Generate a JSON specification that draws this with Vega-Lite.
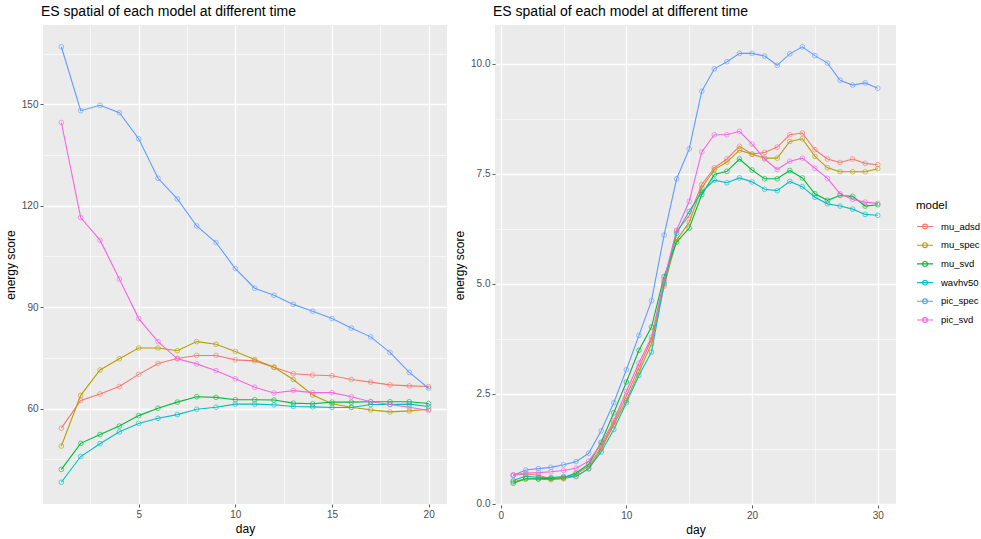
{
  "$schema": "https://vega.github.io/schema/vega-lite/v6.json",
  "background": "white",
  "padding": {"left": 4, "top": 5, "right": 2, "bottom": 4},
  "spacing": 6,
  "datasets": {
    "left": [
      {"model":"mu_adsd","day":1,"score":54.2},{"model":"mu_adsd","day":2,"score":62.4},{"model":"mu_adsd","day":3,"score":64.3},{"model":"mu_adsd","day":4,"score":66.5},{"model":"mu_adsd","day":5,"score":70.1},{"model":"mu_adsd","day":6,"score":73.3},{"model":"mu_adsd","day":7,"score":74.8},{"model":"mu_adsd","day":8,"score":75.7},{"model":"mu_adsd","day":9,"score":75.7},{"model":"mu_adsd","day":10,"score":74.4},{"model":"mu_adsd","day":11,"score":74.1},{"model":"mu_adsd","day":12,"score":72.2},{"model":"mu_adsd","day":13,"score":70.3},{"model":"mu_adsd","day":14,"score":69.9},{"model":"mu_adsd","day":15,"score":69.7},{"model":"mu_adsd","day":16,"score":68.6},{"model":"mu_adsd","day":17,"score":67.8},{"model":"mu_adsd","day":18,"score":67.0},{"model":"mu_adsd","day":19,"score":66.7},{"model":"mu_adsd","day":20,"score":66.5},
      {"model":"mu_spec","day":1,"score":48.9},{"model":"mu_spec","day":2,"score":63.9},{"model":"mu_spec","day":3,"score":71.4},{"model":"mu_spec","day":4,"score":74.7},{"model":"mu_spec","day":5,"score":77.9},{"model":"mu_spec","day":6,"score":77.9},{"model":"mu_spec","day":7,"score":77.1},{"model":"mu_spec","day":8,"score":79.8},{"model":"mu_spec","day":9,"score":79.0},{"model":"mu_spec","day":10,"score":76.9},{"model":"mu_spec","day":11,"score":74.5},{"model":"mu_spec","day":12,"score":72.2},{"model":"mu_spec","day":13,"score":68.6},{"model":"mu_spec","day":14,"score":64.0},{"model":"mu_spec","day":15,"score":61.4},{"model":"mu_spec","day":16,"score":60.4},{"model":"mu_spec","day":17,"score":59.6},{"model":"mu_spec","day":18,"score":59.0},{"model":"mu_spec","day":19,"score":59.3},{"model":"mu_spec","day":20,"score":59.8},
      {"model":"mu_svd","day":1,"score":42.0},{"model":"mu_svd","day":2,"score":49.7},{"model":"mu_svd","day":3,"score":52.3},{"model":"mu_svd","day":4,"score":54.8},{"model":"mu_svd","day":5,"score":57.9},{"model":"mu_svd","day":6,"score":60.1},{"model":"mu_svd","day":7,"score":61.9},{"model":"mu_svd","day":8,"score":63.5},{"model":"mu_svd","day":9,"score":63.3},{"model":"mu_svd","day":10,"score":62.6},{"model":"mu_svd","day":11,"score":62.6},{"model":"mu_svd","day":12,"score":62.5},{"model":"mu_svd","day":13,"score":61.6},{"model":"mu_svd","day":14,"score":61.4},{"model":"mu_svd","day":15,"score":61.9},{"model":"mu_svd","day":16,"score":61.9},{"model":"mu_svd","day":17,"score":62.0},{"model":"mu_svd","day":18,"score":62.0},{"model":"mu_svd","day":19,"score":62.0},{"model":"mu_svd","day":20,"score":61.5},
      {"model":"wavhv50","day":1,"score":38.2},{"model":"wavhv50","day":2,"score":45.8},{"model":"wavhv50","day":3,"score":49.6},{"model":"wavhv50","day":4,"score":53.1},{"model":"wavhv50","day":5,"score":55.6},{"model":"wavhv50","day":6,"score":57.1},{"model":"wavhv50","day":7,"score":58.2},{"model":"wavhv50","day":8,"score":59.8},{"model":"wavhv50","day":9,"score":60.4},{"model":"wavhv50","day":10,"score":61.3},{"model":"wavhv50","day":11,"score":61.3},{"model":"wavhv50","day":12,"score":61.1},{"model":"wavhv50","day":13,"score":60.6},{"model":"wavhv50","day":14,"score":60.5},{"model":"wavhv50","day":15,"score":60.3},{"model":"wavhv50","day":16,"score":60.3},{"model":"wavhv50","day":17,"score":61.2},{"model":"wavhv50","day":18,"score":61.2},{"model":"wavhv50","day":19,"score":61.3},{"model":"wavhv50","day":20,"score":60.6},
      {"model":"pic_spec","day":1,"score":167.0},{"model":"pic_spec","day":2,"score":148.1},{"model":"pic_spec","day":3,"score":149.7},{"model":"pic_spec","day":4,"score":147.5},{"model":"pic_spec","day":5,"score":139.8},{"model":"pic_spec","day":6,"score":128.1},{"model":"pic_spec","day":7,"score":122.0},{"model":"pic_spec","day":8,"score":114.0},{"model":"pic_spec","day":9,"score":109.1},{"model":"pic_spec","day":10,"score":101.4},{"model":"pic_spec","day":11,"score":95.6},{"model":"pic_spec","day":12,"score":93.5},{"model":"pic_spec","day":13,"score":90.8},{"model":"pic_spec","day":14,"score":88.8},{"model":"pic_spec","day":15,"score":86.6},{"model":"pic_spec","day":16,"score":83.8},{"model":"pic_spec","day":17,"score":81.2},{"model":"pic_spec","day":18,"score":76.6},{"model":"pic_spec","day":19,"score":70.7},{"model":"pic_spec","day":20,"score":66.0},
      {"model":"pic_svd","day":1,"score":144.6},{"model":"pic_svd","day":2,"score":116.5},{"model":"pic_svd","day":3,"score":109.8},{"model":"pic_svd","day":4,"score":98.3},{"model":"pic_svd","day":5,"score":86.6},{"model":"pic_svd","day":6,"score":79.8},{"model":"pic_svd","day":7,"score":74.7},{"model":"pic_svd","day":8,"score":73.2},{"model":"pic_svd","day":9,"score":71.2},{"model":"pic_svd","day":10,"score":68.8},{"model":"pic_svd","day":11,"score":66.3},{"model":"pic_svd","day":12,"score":64.6},{"model":"pic_svd","day":13,"score":65.3},{"model":"pic_svd","day":14,"score":64.7},{"model":"pic_svd","day":15,"score":64.7},{"model":"pic_svd","day":16,"score":63.5},{"model":"pic_svd","day":17,"score":62.0},{"model":"pic_svd","day":18,"score":61.2},{"model":"pic_svd","day":19,"score":60.4},{"model":"pic_svd","day":20,"score":59.4}
    ],
    "right": [
      {"model":"mu_adsd","day":1,"score":0.65},{"model":"mu_adsd","day":2,"score":0.68},{"model":"mu_adsd","day":3,"score":0.65},{"model":"mu_adsd","day":4,"score":0.57},{"model":"mu_adsd","day":5,"score":0.57},{"model":"mu_adsd","day":6,"score":0.68},{"model":"mu_adsd","day":7,"score":0.85},{"model":"mu_adsd","day":8,"score":1.30},{"model":"mu_adsd","day":9,"score":1.85},{"model":"mu_adsd","day":10,"score":2.45},{"model":"mu_adsd","day":11,"score":3.10},{"model":"mu_adsd","day":12,"score":3.74},{"model":"mu_adsd","day":13,"score":5.05},{"model":"mu_adsd","day":14,"score":6.20},{"model":"mu_adsd","day":15,"score":6.55},{"model":"mu_adsd","day":16,"score":7.26},{"model":"mu_adsd","day":17,"score":7.64},{"model":"mu_adsd","day":18,"score":7.84},{"model":"mu_adsd","day":19,"score":8.13},{"model":"mu_adsd","day":20,"score":7.95},{"model":"mu_adsd","day":21,"score":7.99},{"model":"mu_adsd","day":22,"score":8.11},{"model":"mu_adsd","day":23,"score":8.39},{"model":"mu_adsd","day":24,"score":8.43},{"model":"mu_adsd","day":25,"score":8.05},{"model":"mu_adsd","day":26,"score":7.84},{"model":"mu_adsd","day":27,"score":7.76},{"model":"mu_adsd","day":28,"score":7.84},{"model":"mu_adsd","day":29,"score":7.74},{"model":"mu_adsd","day":30,"score":7.71},
      {"model":"mu_spec","day":1,"score":0.50},{"model":"mu_spec","day":2,"score":0.57},{"model":"mu_spec","day":3,"score":0.56},{"model":"mu_spec","day":4,"score":0.55},{"model":"mu_spec","day":5,"score":0.58},{"model":"mu_spec","day":6,"score":0.62},{"model":"mu_spec","day":7,"score":0.80},{"model":"mu_spec","day":8,"score":1.25},{"model":"mu_spec","day":9,"score":1.80},{"model":"mu_spec","day":10,"score":2.35},{"model":"mu_spec","day":11,"score":3.00},{"model":"mu_spec","day":12,"score":3.64},{"model":"mu_spec","day":13,"score":4.95},{"model":"mu_spec","day":14,"score":6.00},{"model":"mu_spec","day":15,"score":6.40},{"model":"mu_spec","day":16,"score":7.18},{"model":"mu_spec","day":17,"score":7.60},{"model":"mu_spec","day":18,"score":7.77},{"model":"mu_spec","day":19,"score":8.04},{"model":"mu_spec","day":20,"score":7.95},{"model":"mu_spec","day":21,"score":7.86},{"model":"mu_spec","day":22,"score":7.86},{"model":"mu_spec","day":23,"score":8.24},{"model":"mu_spec","day":24,"score":8.30},{"model":"mu_spec","day":25,"score":7.90},{"model":"mu_spec","day":26,"score":7.64},{"model":"mu_spec","day":27,"score":7.55},{"model":"mu_spec","day":28,"score":7.55},{"model":"mu_spec","day":29,"score":7.55},{"model":"mu_spec","day":30,"score":7.62},
      {"model":"mu_svd","day":1,"score":0.47},{"model":"mu_svd","day":2,"score":0.57},{"model":"mu_svd","day":3,"score":0.57},{"model":"mu_svd","day":4,"score":0.58},{"model":"mu_svd","day":5,"score":0.60},{"model":"mu_svd","day":6,"score":0.70},{"model":"mu_svd","day":7,"score":0.90},{"model":"mu_svd","day":8,"score":1.40},{"model":"mu_svd","day":9,"score":2.07},{"model":"mu_svd","day":10,"score":2.77},{"model":"mu_svd","day":11,"score":3.49},{"model":"mu_svd","day":12,"score":4.02},{"model":"mu_svd","day":13,"score":5.17},{"model":"mu_svd","day":14,"score":5.95},{"model":"mu_svd","day":15,"score":6.27},{"model":"mu_svd","day":16,"score":7.03},{"model":"mu_svd","day":17,"score":7.49},{"model":"mu_svd","day":18,"score":7.56},{"model":"mu_svd","day":19,"score":7.84},{"model":"mu_svd","day":20,"score":7.59},{"model":"mu_svd","day":21,"score":7.39},{"model":"mu_svd","day":22,"score":7.39},{"model":"mu_svd","day":23,"score":7.58},{"model":"mu_svd","day":24,"score":7.41},{"model":"mu_svd","day":25,"score":7.05},{"model":"mu_svd","day":26,"score":6.90},{"model":"mu_svd","day":27,"score":7.01},{"model":"mu_svd","day":28,"score":6.99},{"model":"mu_svd","day":29,"score":6.77},{"model":"mu_svd","day":30,"score":6.80},
      {"model":"wavhv50","day":1,"score":0.53},{"model":"wavhv50","day":2,"score":0.63},{"model":"wavhv50","day":3,"score":0.60},{"model":"wavhv50","day":4,"score":0.60},{"model":"wavhv50","day":5,"score":0.62},{"model":"wavhv50","day":6,"score":0.63},{"model":"wavhv50","day":7,"score":0.80},{"model":"wavhv50","day":8,"score":1.18},{"model":"wavhv50","day":9,"score":1.69},{"model":"wavhv50","day":10,"score":2.30},{"model":"wavhv50","day":11,"score":2.92},{"model":"wavhv50","day":12,"score":3.45},{"model":"wavhv50","day":13,"score":5.00},{"model":"wavhv50","day":14,"score":6.15},{"model":"wavhv50","day":15,"score":6.65},{"model":"wavhv50","day":16,"score":7.09},{"model":"wavhv50","day":17,"score":7.36},{"model":"wavhv50","day":18,"score":7.30},{"model":"wavhv50","day":19,"score":7.41},{"model":"wavhv50","day":20,"score":7.32},{"model":"wavhv50","day":21,"score":7.15},{"model":"wavhv50","day":22,"score":7.12},{"model":"wavhv50","day":23,"score":7.33},{"model":"wavhv50","day":24,"score":7.21},{"model":"wavhv50","day":25,"score":6.97},{"model":"wavhv50","day":26,"score":6.82},{"model":"wavhv50","day":27,"score":6.77},{"model":"wavhv50","day":28,"score":6.70},{"model":"wavhv50","day":29,"score":6.58},{"model":"wavhv50","day":30,"score":6.56},
      {"model":"pic_spec","day":1,"score":0.65},{"model":"pic_spec","day":2,"score":0.77},{"model":"pic_spec","day":3,"score":0.80},{"model":"pic_spec","day":4,"score":0.83},{"model":"pic_spec","day":5,"score":0.89},{"model":"pic_spec","day":6,"score":0.96},{"model":"pic_spec","day":7,"score":1.15},{"model":"pic_spec","day":8,"score":1.66},{"model":"pic_spec","day":9,"score":2.30},{"model":"pic_spec","day":10,"score":3.05},{"model":"pic_spec","day":11,"score":3.83},{"model":"pic_spec","day":12,"score":4.62},{"model":"pic_spec","day":13,"score":6.11},{"model":"pic_spec","day":14,"score":7.39},{"model":"pic_spec","day":15,"score":8.07},{"model":"pic_spec","day":16,"score":9.38},{"model":"pic_spec","day":17,"score":9.89},{"model":"pic_spec","day":18,"score":10.05},{"model":"pic_spec","day":19,"score":10.24},{"model":"pic_spec","day":20,"score":10.24},{"model":"pic_spec","day":21,"score":10.18},{"model":"pic_spec","day":22,"score":9.97},{"model":"pic_spec","day":23,"score":10.23},{"model":"pic_spec","day":24,"score":10.39},{"model":"pic_spec","day":25,"score":10.19},{"model":"pic_spec","day":26,"score":10.02},{"model":"pic_spec","day":27,"score":9.63},{"model":"pic_spec","day":28,"score":9.52},{"model":"pic_spec","day":29,"score":9.57},{"model":"pic_spec","day":30,"score":9.45},
      {"model":"pic_svd","day":1,"score":0.66},{"model":"pic_svd","day":2,"score":0.70},{"model":"pic_svd","day":3,"score":0.71},{"model":"pic_svd","day":4,"score":0.73},{"model":"pic_svd","day":5,"score":0.76},{"model":"pic_svd","day":6,"score":0.81},{"model":"pic_svd","day":7,"score":0.97},{"model":"pic_svd","day":8,"score":1.36},{"model":"pic_svd","day":9,"score":1.89},{"model":"pic_svd","day":10,"score":2.56},{"model":"pic_svd","day":11,"score":3.20},{"model":"pic_svd","day":12,"score":3.79},{"model":"pic_svd","day":13,"score":5.10},{"model":"pic_svd","day":14,"score":6.22},{"model":"pic_svd","day":15,"score":6.88},{"model":"pic_svd","day":16,"score":8.00},{"model":"pic_svd","day":17,"score":8.39},{"model":"pic_svd","day":18,"score":8.39},{"model":"pic_svd","day":19,"score":8.47},{"model":"pic_svd","day":20,"score":8.18},{"model":"pic_svd","day":21,"score":7.84},{"model":"pic_svd","day":22,"score":7.60},{"model":"pic_svd","day":23,"score":7.79},{"model":"pic_svd","day":24,"score":7.86},{"model":"pic_svd","day":25,"score":7.63},{"model":"pic_svd","day":26,"score":7.40},{"model":"pic_svd","day":27,"score":7.05},{"model":"pic_svd","day":28,"score":6.92},{"model":"pic_svd","day":29,"score":6.86},{"model":"pic_svd","day":30,"score":6.83}
    ]
  },
  "hconcat": [
    {
      "width": 404,
      "height": 479,
      "title": {"text": "ES spatial of each model at different time", "anchor": "start", "frame": "group", "fontSize": 14, "fontWeight": "normal", "color": "#000000", "offset": 6, "dx": -2},
      "data": {"name": "left"},
      "encoding": {
        "x": {"field": "day", "type": "quantitative", "title": "day",
          "scale": {"domain": [0.05, 20.95], "nice": false, "zero": false},
          "axis": {"values": [2.5, 5, 7.5, 10, 12.5, 15, 17.5, 20],
            "labelExpr": "datum.value % 5 == 0 ? datum.label : ''",
            "gridWidth": {"condition": {"test": "datum.value % 5 == 0", "value": 1.3}, "value": 0.6},
            "tickOpacity": {"condition": {"test": "datum.value % 5 == 0", "value": 1}, "value": 0}}},
        "y": {"field": "score", "type": "quantitative", "title": "energy score",
          "scale": {"domain": [31.76, 173.44], "nice": false, "zero": false},
          "axis": {"values": [45, 60, 75, 90, 105, 120, 135, 150, 165],
            "labelExpr": "datum.value % 30 == 0 ? datum.label : ''",
            "gridWidth": {"condition": {"test": "datum.value % 30 == 0", "value": 1.3}, "value": 0.6},
            "tickOpacity": {"condition": {"test": "datum.value % 30 == 0", "value": 1}, "value": 0}}},
        "color": {"field": "model", "type": "nominal", "title": "model",
          "scale": {"domain": ["mu_adsd", "mu_spec", "mu_svd", "wavhv50", "pic_spec", "pic_svd"],
                    "range": ["#F8766D", "#B79F00", "#00BA38", "#00BFC4", "#619CFF", "#F564E3"]}}
      },
      "layer": [
        {"mark": {"type": "line", "strokeWidth": 1.1}, "encoding": {}},
        {"mark": {"type": "point", "filled": false, "size": 22, "strokeWidth": 0.9, "opacity": 0.7}, "encoding": {}}
      ]
    },
    {
      "width": 401,
      "height": 480,
      "title": {"text": "ES spatial of each model at different time", "anchor": "start", "frame": "group", "fontSize": 14, "fontWeight": "normal", "color": "#000000", "offset": 6, "dx": -2},
      "data": {"name": "right"},
      "encoding": {
        "x": {"field": "day", "type": "quantitative", "title": "day",
          "scale": {"domain": [-0.45, 31.45], "nice": false, "zero": false},
          "axis": {"values": [0, 5, 10, 15, 20, 25, 30],
            "labelExpr": "datum.value % 10 == 0 ? datum.label : ''",
            "gridWidth": {"condition": {"test": "datum.value % 10 == 0", "value": 1.3}, "value": 0.6},
            "tickOpacity": {"condition": {"test": "datum.value % 10 == 0", "value": 1}, "value": 0}}},
        "y": {"field": "score", "type": "quantitative", "title": "energy score",
          "scale": {"domain": [-0.026, 10.886], "nice": false, "zero": false},
          "axis": {"values": [0, 1.25, 2.5, 3.75, 5, 6.25, 7.5, 8.75, 10], "format": ".1f",
            "labelExpr": "datum.value % 2.5 == 0 ? datum.label : ''",
            "gridWidth": {"condition": {"test": "datum.value % 2.5 == 0", "value": 1.3}, "value": 0.6},
            "tickOpacity": {"condition": {"test": "datum.value % 2.5 == 0", "value": 1}, "value": 0}}},
        "color": {"field": "model", "type": "nominal", "title": "model",
          "scale": {"domain": ["mu_adsd", "mu_spec", "mu_svd", "wavhv50", "pic_spec", "pic_svd"],
                    "range": ["#F8766D", "#B79F00", "#00BA38", "#00BFC4", "#619CFF", "#F564E3"]}}
      },
      "layer": [
        {"mark": {"type": "line", "strokeWidth": 1.1}, "encoding": {}},
        {"mark": {"type": "point", "filled": false, "size": 22, "strokeWidth": 0.9, "opacity": 0.7}, "encoding": {}}
      ]
    }
  ],
  "config": {
    "font": "Liberation Sans",
    "view": {"fill": "#EBEBEB", "stroke": null},
    "axis": {"domain": false, "grid": true, "gridColor": "#FFFFFF", "tickColor": "#333333", "tickSize": 3, "tickWidth": 0.8,
      "labelColor": "#4D4D4D", "labelFontSize": 10, "labelPadding": 2, "titleFontSize": 12, "titleFontWeight": "normal",
      "titleColor": "#000000", "titlePadding": 4},
    "legend": {"orient": "none", "legendX": 873, "legendY": 175, "padding": 0,
      "titleFontSize": 11.5, "titleFontWeight": "normal", "titleColor": "#000000", "titlePadding": 6,
      "labelFontSize": 9.5, "labelColor": "#000000", "labelOffset": 7, "rowPadding": 4.7,
      "symbolType": "M-1,0H1M0.3,0A0.3,0.3,0,1,1,-0.3,0A0.3,0.3,0,1,1,0.3,0",
      "symbolSize": 256, "symbolStrokeWidth": 1.1, "symbolFillColor": "transparent", "symbolOpacity": 1}
  }
}
